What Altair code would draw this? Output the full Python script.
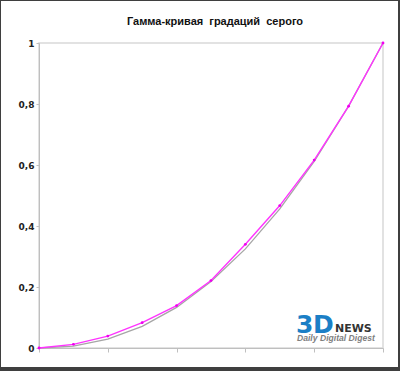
import altair as alt
import pandas as pd

# Grey-level steps (0 … 10) and the normalised output brightness
steps = [0, 1, 2, 3, 4, 5, 6, 7, 8, 9, 10]
measured = [0.0, 0.012, 0.039, 0.083, 0.139, 0.221, 0.340, 0.467, 0.616, 0.793, 1.0]
reference = [0.0, 0.006, 0.029, 0.071, 0.133, 0.218, 0.325, 0.456, 0.612, 0.793, 1.0]
y_ticks = [0, 0.2, 0.4, 0.6, 0.8, 1.0]
# non-breaking spaces keep the wide word gaps of the heading
title_text = "Гамма-кривая\u00a0 градаций\u00a0 серого"

df = pd.DataFrame({"step": steps, "measured": measured, "reference": reference})

x_enc = alt.X("step:Q", scale=alt.Scale(domain=[0, 10], nice=False),
              axis=alt.Axis(values=steps, labels=False, title=None, grid=False,
                            tickSize=4, tickColor="#bfbfbf", domainColor="#bfbfbf"))
y_axis = alt.Axis(values=y_ticks, title=None, grid=False, tickSize=3,
                  tickColor="#bfbfbf", domainColor="#bfbfbf",
                  labelExpr="replace(format(datum.value, '~g'), '.', ',')",
                  labelFont="DejaVu Sans", labelFontWeight="bold", labelFontSize=9,
                  labelColor="#222222", labelPadding=2)

ref_line = alt.Chart(df).mark_line(color="#a6a6a6", strokeWidth=1.3).encode(
    x=x_enc,
    y=alt.Y("reference:Q", scale=alt.Scale(domain=[0, 1], nice=False), axis=y_axis),
)

meas_line = alt.Chart(df).mark_line(
    color="#ff33ff", strokeWidth=1.4,
    point=alt.OverlayMarkDef(color="#ee00ee", size=8, filled=True),
).encode(x="step:Q", y="measured:Q")

one = pd.DataFrame({"t": [0]})

# Chart heading above the plot
heading = alt.Chart(one).mark_text(
    text=title_text, font="Liberation Sans", fontWeight="bold", fontSize=11,
    color="#111111", align="center", baseline="alphabetic",
).encode(x=alt.value(176), y=alt.value(-18))

# Site logo in the lower right corner
logo_3 = alt.Chart(one).mark_text(
    text="3", font="DejaVu Sans", fontWeight="bold",
    fontSize=25, color="#1b7fc6", align="left", baseline="alphabetic",
).encode(x=alt.value(257), y=alt.value(290))
logo_d = alt.Chart(one).mark_text(
    text="D", font="DejaVu Sans", fontWeight="bold",
    fontSize=25, color="#1b7fc6", align="left", baseline="alphabetic",
).encode(x=alt.value(274), y=alt.value(290))
logo_news = alt.Chart(one).mark_text(
    text="NEWS", font="DejaVu Sans", fontWeight="bold",
    fontSize=11, color="#333333", align="left", baseline="alphabetic",
).encode(x=alt.value(296), y=alt.value(288.5))
logo_tag = alt.Chart(one).mark_text(
    text="Daily Digital Digest", font="Liberation Sans", fontStyle="italic",
    fontWeight="bold", fontSize=8.6, color="#808080", align="left", baseline="alphabetic",
).encode(x=alt.value(258), y=alt.value(297.5))

# Dark frame around the whole figure
frame_top = alt.Chart(one).mark_rule(color="#3f3f3f", strokeWidth=1).encode(
    x=alt.value(-39), x2=alt.value(361), y=alt.value(-42.5))
frame_left = alt.Chart(one).mark_rule(color="#3f3f3f", strokeWidth=1).encode(
    x=alt.value(-38.5), y=alt.value(-43), y2=alt.value(328))
frame_right = alt.Chart(one).mark_rule(color="#3f3f3f", strokeWidth=2).encode(
    x=alt.value(360), y=alt.value(-43), y2=alt.value(328))
frame_bottom = alt.Chart(one).mark_rule(color="#3f3f3f", strokeWidth=4).encode(
    x=alt.value(-39), x2=alt.value(361), y=alt.value(326))

chart = alt.layer(
    ref_line, meas_line, heading, logo_3, logo_d, logo_news, logo_tag,
    frame_top, frame_left, frame_right, frame_bottom,
).properties(
    width=344, height=305,
    autosize=alt.AutoSizeParams(type="none"),
    padding={"left": 39, "top": 43, "right": 17, "bottom": 23},
    background="white",
).configure_view(stroke="#d9d9d9", strokeWidth=1.5)

chart.save("out.html", embed_options={"renderer": "svg", "actions": False})
